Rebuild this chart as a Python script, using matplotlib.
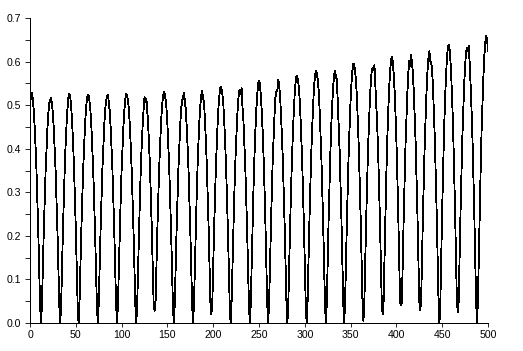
import numpy as np
import matplotlib
matplotlib.use("Agg")
import matplotlib.pyplot as plt

# sampled signal, values in thousandths, one row per cycle (ends at the minimum)
signal_milli = [
    500, 520, 528, 515, 491, 454, 407, 354, 285, 211, 127, 42, 0,
    41, 124, 207, 279, 346, 398, 445, 481, 504, 512, 517, 502, 481, 445, 398, 346, 279, 207, 124, 41, 0,
    42, 129, 216, 292, 360, 416, 460, 494, 518, 526, 518, 494, 460, 416, 360, 292, 216, 129, 42, 0,
    42, 126, 210, 283, 351, 403, 451, 487, 511, 524, 521, 508, 487, 451, 403, 351, 283, 210, 126, 42, 0,
    42, 126, 210, 283, 351, 403, 451, 487, 509, 518, 524, 508, 487, 451, 403, 351, 283, 210, 126, 42, 0,
    42, 126, 210, 284, 352, 405, 452, 489, 513, 526, 523, 510, 489, 452, 405, 352, 284, 210, 126, 42, 0,
    42, 127, 213, 288, 356, 410, 454, 490, 519, 506, 515, 488, 454, 410, 356, 288, 213, 127, 42, 28,
    42, 127, 212, 286, 355, 408, 456, 493, 517, 530, 527, 514, 493, 456, 408, 355, 286, 212, 127, 42, 0,
    42, 127, 211, 285, 354, 407, 454, 491, 508, 518, 528, 512, 491, 454, 407, 354, 285, 211, 127, 42, 0,
    43, 130, 218, 295, 364, 420, 466, 500, 524, 532, 515, 508, 466, 420, 364, 295, 218, 130, 43, 20,
    43, 130, 217, 293, 363, 417, 466, 504, 528, 542, 539, 526, 504, 466, 417, 363, 293, 217, 130, 43, 0,
    43, 129, 216, 291, 361, 415, 464, 501, 528, 536, 525, 539, 495, 464, 415, 361, 291, 216, 129, 43, 0,
    44, 136, 228, 309, 381, 439, 487, 523, 548, 556, 548, 523, 487, 439, 381, 309, 228, 136, 44, 0,
    45, 134, 224, 302, 375, 430, 481, 520, 530, 533, 559, 545, 520, 481, 430, 375, 302, 224, 134, 45, 0,
    45, 136, 227, 306, 380, 437, 488, 527, 553, 567, 564, 550, 527, 488, 437, 380, 306, 227, 136, 45, 0,
    46, 139, 231, 312, 387, 445, 497, 538, 564, 578, 575, 561, 538, 497, 445, 387, 312, 231, 139, 46, 0,
    46, 142, 237, 321, 396, 457, 506, 543, 569, 578, 565, 560, 506, 457, 396, 321, 237, 142, 46, 0,
    48, 143, 238, 321, 399, 458, 512, 553, 580, 595, 592, 577, 553, 512, 458, 399, 321, 238, 143, 48, 5,
    47, 142, 237, 320, 397, 456, 509, 551, 577, 585, 581, 592, 548, 509, 456, 397, 320, 237, 142, 47, 20,
    49, 149, 250, 339, 418, 482, 534, 573, 601, 610, 601, 573, 534, 482, 418, 339, 250, 149, 49, 40,
    49, 148, 246, 333, 413, 474, 530, 573, 601, 590, 616, 598, 573, 530, 474, 413, 333, 246, 148, 49, 30,
    50, 150, 250, 337, 418, 480, 537, 580, 608, 624, 600, 598, 580, 537, 480, 418, 337, 250, 150, 50, 0,
    51, 157, 262, 355, 438, 505, 559, 601, 629, 639, 629, 601, 559, 505, 438, 355, 262, 157, 51, 25,
    51, 153, 254, 343, 426, 490, 547, 591, 620, 632, 624, 636, 596, 547, 490, 426, 343, 254, 153, 51, 0,
    53, 158, 264, 356, 442, 507, 567, 613, 643, 659, 652, 625,
]

x_ticks = [0, 50, 100, 150, 200, 250, 300, 350, 400, 450, 500]
y_ticks = [0.0, 0.1, 0.2, 0.3, 0.4, 0.5, 0.6, 0.7]
y_minor = [0.05, 0.15, 0.25, 0.35, 0.45, 0.55, 0.65]

y = np.array(signal_milli) / 1000.0
x = np.arange(len(y))

plt.rcParams['font.family'] = ['Liberation Sans', 'DejaVu Sans']

fig = plt.figure(figsize=(5.23, 3.51), dpi=100)
ax = fig.add_axes([30 / 523, 28 / 351, 458 / 523, 305 / 351])

ax.plot(x, y, color='black', lw=0.6, antialiased=False)

ax.set_xlim(0, 500)
ax.set_ylim(0, 0.7)
ax.set_xticks(x_ticks)
ax.set_xticklabels([str(t) for t in x_ticks])
ax.set_yticks(y_ticks)
ax.set_yticklabels([f"{t:.1f}" for t in y_ticks])
ax.set_yticks(y_minor, minor=True)

for side in ['top', 'right']:
    ax.spines[side].set_visible(False)
for side in ['left', 'bottom']:
    ax.spines[side].set_linewidth(0.6)
    ax.spines[side].set_antialiased(False)

ax.tick_params(axis='both', which='both', direction='out', width=0.6,
               labelsize=7.6, colors='black')
ax.tick_params(axis='y', which='both', length=3.6, pad=3)
ax.tick_params(axis='x', which='major', length=3.2, pad=2)

fig.savefig('out.png', dpi=100)
